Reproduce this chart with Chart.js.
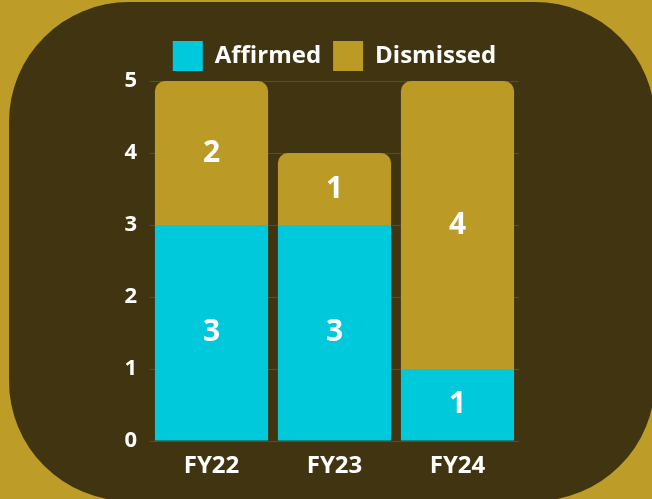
<!DOCTYPE html>
<html lang="en">
  <head>
    <meta charset="UTF-8">
    <script src="https://cdn.jsdelivr.net/npm/chart.js@4.4.0/dist/chart.umd.min.js"></script>
    <style>
      html, body {
        margin: 0;
        padding: 0;
        width: 652px;
        height: 499px;
        overflow: hidden;
        background: #BD9D27;
      }
      .panel {
        position: absolute;
        left: 9px;
        top: 2px;
        width: 646px;
        height: 499px;
        border-radius: 120px;
        background: #403411;
      }
      .chart-box {
        position: absolute;
        left: 0;
        top: 0;
        width: 652px;
        height: 499px;
      }
    </style>
  </head>
  <body>
    <div class="panel"></div>
    <div class="chart-box">
      <canvas id="casesChart"></canvas>
    </div>

    <script>
      const years = ['FY22', 'FY23', 'FY24'];
      const affirmed = [3, 3, 1];
      const dismissed = [2, 1, 4];
      const yTicks = [0, 1, 2, 3, 4, 5];

      const FONT = "'Open Sans', sans-serif";

      // white value labels in the middle of each segment
      const segmentLabels = {
        id: 'segmentLabels',
        afterDatasetsDraw(chart) {
          const ctx = chart.ctx;
          ctx.save();
          ctx.fillStyle = '#FFFFFF';
          ctx.font = 'bold 30px ' + FONT;
          ctx.textAlign = 'center';
          ctx.textBaseline = 'middle';
          chart.data.datasets.forEach((ds, i) => {
            const meta = chart.getDatasetMeta(i);
            meta.data.forEach((bar, j) => {
              const v = ds.data[j];
              if (!v) return;
              ctx.fillText(String(v), bar.x, (bar.y + bar.base) / 2);
            });
          });
          ctx.restore();
        }
      };

      const ctx = document.getElementById('casesChart').getContext('2d');
      new Chart(ctx, {
        type: 'bar',
        data: {
          labels: years,
          datasets: [
            {
              label: 'Affirmed',
              data: affirmed,
              backgroundColor: '#00C9DB',
              borderRadius: 10,
              barPercentage: 0.92,
              categoryPercentage: 1
            },
            {
              label: 'Dismissed',
              data: dismissed,
              backgroundColor: '#BB9A26',
              borderRadius: 10,
              barPercentage: 0.92,
              categoryPercentage: 1
            }
          ]
        },
        options: {
          responsive: true,
          maintainAspectRatio: false,
          animation: false,
          layout: {
            padding: { left: 110, right: 133, top: 29, bottom: 13 }
          },
          plugins: {
            tooltip: { enabled: false },
            legend: {
              position: 'top',
              fullSize: false,
              labels: {
                color: '#FFFFFF',
                boxWidth: 30,
                boxHeight: 30,
                padding: 12,
                font: { family: FONT, size: 24, weight: 'bold' }
              }
            }
          },
          scales: {
            x: {
              stacked: true,
              grid: { display: false },
              border: { display: false },
              ticks: {
                color: '#FFFFFF',
                padding: 3,
                font: { family: FONT, size: 24, weight: 'bold' }
              },
              afterFit(axis) { axis.height = 45; }
            },
            y: {
              stacked: true,
              min: 0,
              max: 5,
              afterBuildTicks(axis) {
                axis.ticks = yTicks.map(v => ({ value: v }));
              },
              grid: {
                color: 'rgba(255,255,255,0.13)',
                drawTicks: false
              },
              border: { display: false },
              ticks: {
                color: '#FFFFFF',
                padding: 13,
                font: { family: FONT, size: 22, weight: 'bold' }
              },
              afterFit(axis) { axis.width = 40; }
            }
          }
        },
        plugins: [segmentLabels]
      });
    </script>
  </body>
</html>
